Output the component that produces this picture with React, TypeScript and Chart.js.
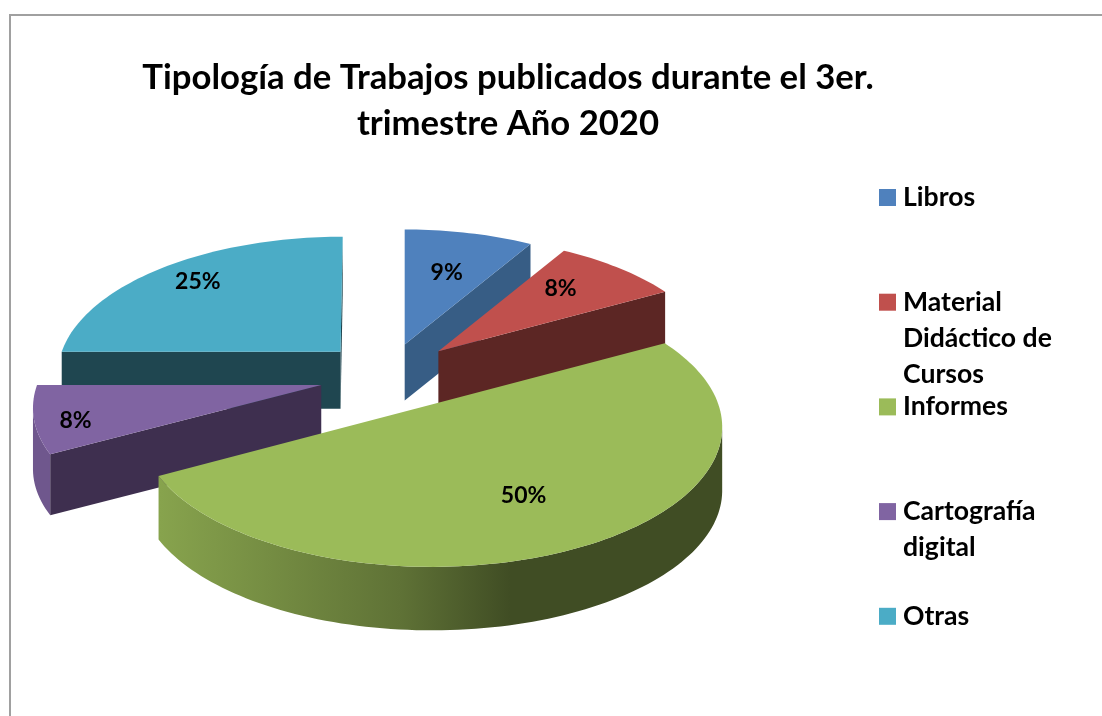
import React, { useEffect, useRef } from "react";
import { Chart, registerables } from "chart.js";

Chart.register(...registerables);

const titleLines = ["Tipología de Trabajos publicados durante el 3er.", "trimestre Año 2020"];
const categories = ["Libros", "Material Didáctico de Cursos", "Informes", "Cartografía digital", "Otras"];
const legendLines = [["Libros"], ["Material", "Didáctico de", "Cursos"], ["Informes"], ["Cartografía", "digital"], ["Otras"]];
const values = [8.6, 8.4, 50, 8, 25];
const topColors = ["#4F81BD", "#C0504D", "#9BBB59", "#8064A2", "#4BACC6"];
const wallColors = ["#375D85", "#5C2624", "#3F4A22", "#3E2F4F", "#1F4650"];
const rgb = [[79, 129, 189], [192, 80, 77], [155, 187, 89], [128, 100, 162], [75, 172, 198]];
const labelSpots = [0.62, 0.62, 0.74, 0.86, 0.74];
const labelNudgeX = [0, 6, -22, 0, -9];
const labelNudgeY = [1, -9, -8, 6, -6];
const sliceNudgeX = [-4, -2, 7, -1, 0];
const sliceNudgeY = [1, -2, -5, -2, -1];
const sliceFlat = [1, 1, 1.03, 1, 1];

const FONT = "Lato, Carlito, 'Open Sans', sans-serif";
const SHIFT_X = -118;
const R_SCALE = 283 / 228;
const PERSPECTIVE = 0.156;
const FLAT = 133 / 283;
const EXPLODE_X = 70 / 283;
const EXPLODE_Y = 36 / 283;
const VANISH = 0.25;
const DEPTH = 60 / 283;
const shadeStops = [[30, 0.87], [160, 0.87], [400, 0.61], [510, 0.41], [722, 0.41]];

const pie3d = {
  id: "pie3d",
  beforeDraw(chart: any) {
    const { ctx } = chart;
    ctx.save();
    ctx.fillStyle = "#fff";
    ctx.fillRect(0, 0, chart.width, chart.height);
    ctx.strokeStyle = "#a0a0a0";
    ctx.lineWidth = 2;
    ctx.beginPath();
    ctx.moveTo(10, chart.height);
    ctx.lineTo(10, 15);
    ctx.lineTo(chart.width, 15);
    ctx.stroke();
    ctx.restore();
  },
  beforeDatasetsDraw(chart: any) {
    const { ctx } = chart;
    const arcs = chart.getDatasetMeta(0).data;
    const total = values.reduce((a, b) => a + b, 0);
    const slices = arcs.map((arc: any, i: number) => {
      const cx = arc.x + SHIFT_X;
      const cy = arc.y;
      const R = arc.outerRadius * R_SCALE;
      const mid = (arc.startAngle + arc.endAngle) / 2;
      const mu = Math.cos(mid);
      const mv = Math.sin(mid);
      const ax = cx + R * EXPLODE_X * mu + sliceNudgeX[i];
      const ay = cy + R * EXPLODE_Y * mv + sliceNudgeY[i];
      const rx = R * (1 + 0.02 * mv);
      const vx = cx + 15;
      const project = (angle: number, f: number) => {
        const u = Math.cos(angle) * f;
        const v = Math.sin(angle) * f;
        const s = 1 / (1 - PERSPECTIVE * v);
        return [ax + rx * u * s + (ax - vx) * (s - 1) * VANISH, ay + R * FLAT * sliceFlat[i] * v * s];
      };
      return { i, arc, mid, mv, ax, ay, R, project, depth: R * DEPTH + 4 * mv };
    });
    slices.sort((a: any, b: any) => a.mv - b.mv);

    for (const sl of slices) {
      const { i, arc, ax, ay, project, depth } = sl;
      const pts: number[][] = [[ax, ay]];
      const steps = Math.max(12, Math.round((arc.endAngle - arc.startAngle) * 40));
      for (let k = 0; k <= steps; k++) {
        pts.push(project(arc.startAngle + ((arc.endAngle - arc.startAngle) * k) / steps, 1));
      }
      const grad = ctx.createLinearGradient(30, 0, 722, 0);
      for (const [x, f] of shadeStops) {
        const c = rgb[i];
        grad.addColorStop((x - 30) / 692, `rgb(${c[0] * f},${c[1] * f},${c[2] * f})`);
      }
      const n = pts.length;
      // outer wall: one polygon over the viewer-facing run of the rim
      let first = -1;
      let last = -1;
      for (let k = 1; k < n - 1; k++) {
        if (pts[k + 1][0] < pts[k][0]) {
          if (first < 0) first = k;
          last = k + 1;
        }
      }
      if (first > 0) {
        ctx.fillStyle = grad;
        ctx.beginPath();
        for (let k = first; k <= last; k++) {
          if (k === first) ctx.moveTo(pts[k][0], pts[k][1]);
          else ctx.lineTo(pts[k][0], pts[k][1]);
        }
        for (let k = last; k >= first; k--) ctx.lineTo(pts[k][0], pts[k][1] + depth);
        ctx.closePath();
        ctx.fill();
      }
      // radial walls
      const radial = [[pts[0], pts[1]], [pts[n - 1], pts[0]]];
      for (const [p, q] of radial) {
        if (q[0] < p[0]) {
          ctx.fillStyle = wallColors[i];
          ctx.beginPath();
          ctx.moveTo(p[0], p[1]);
          ctx.lineTo(q[0], q[1]);
          ctx.lineTo(q[0], q[1] + depth);
          ctx.lineTo(p[0], p[1] + depth);
          ctx.closePath();
          ctx.fill();
        }
      }
      // top
      ctx.fillStyle = topColors[i];
      ctx.beginPath();
      pts.forEach((p, k) => (k ? ctx.lineTo(p[0], p[1]) : ctx.moveTo(p[0], p[1])));
      ctx.closePath();
      ctx.fill();
    }

    ctx.fillStyle = "#000";
    ctx.font = `bold 23px ${FONT}`;
    ctx.textAlign = "center";
    ctx.textBaseline = "middle";
    for (const sl of slices) {
      const p = sl.project(sl.mid, labelSpots[sl.i]);
      const pct = Math.round((values[sl.i] / total) * 100);
      ctx.fillText(`${pct}%`, p[0] + labelNudgeX[sl.i], p[1] + labelNudgeY[sl.i]);
    }

    // legend
    ctx.textAlign = "left";
    ctx.font = `bold 26.6px ${FONT}`;
    categories.forEach((_, i) => {
      const y = 197.5 + i * 104.7;
      ctx.fillStyle = topColors[i];
      ctx.fillRect(879, y - 8.5, 17, 17);
      ctx.fillStyle = "#000";
      legendLines[i].forEach((line, k) => ctx.fillText(line, 903, y + k * 36));
    });
    return false;
  },
};

export default function App() {
  const ref = useRef<HTMLCanvasElement>(null);
  useEffect(() => {
    document.body.style.margin = "0";
    const chart = new Chart(ref.current!, {
      type: "pie",
      data: { labels: categories, datasets: [{ data: values, backgroundColor: topColors, borderWidth: 0 }] },
      options: {
        animation: false,
        responsive: false,
        layout: { padding: { right: 86, bottom: 110 } },
        plugins: {
          legend: { display: false },
          tooltip: { enabled: false },
          title: {
            display: true,
            text: titleLines,
            color: "#000",
            align: "center",
            font: { family: FONT, size: 34.7, weight: "bold", lineHeight: 1.33 },
            padding: { top: 55, bottom: 3 },
          },
        },
      },
      plugins: [pie3d],
    } as any);
    return () => chart.destroy();
  }, []);
  return <canvas ref={ref} width={1102} height={716} style={{ display: "block" }} />;
}
